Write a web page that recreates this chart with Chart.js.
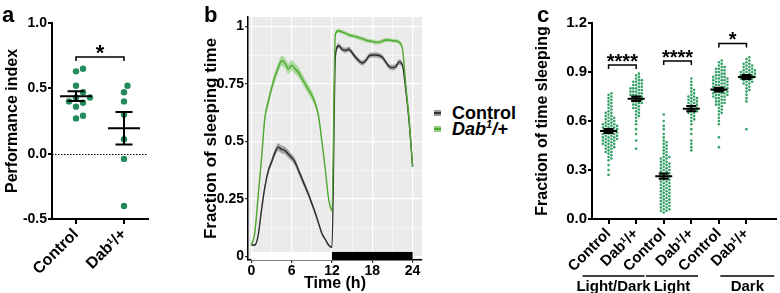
<!DOCTYPE html>
<html>
<head>
<meta charset="utf-8">
<title>Dab1 sleep figure</title>
<script src="https://cdn.jsdelivr.net/npm/chart.js@4.4.1/dist/chart.umd.min.js"></script>
<style>
  body { margin: 0; background: #fff; font-family: 'Liberation Sans', Arial, sans-serif; }
  #fig { position: relative; width: 780px; height: 293px; overflow: hidden; }
  canvas { position: absolute; top: 0; }
  .tag { position: absolute; top: 4px; font-size: 22px; font-weight: bold; line-height: 22px; }
  .leg { position: absolute; left: 434px; font-size: 18px; font-weight: bold; line-height: 17px; white-space: nowrap; }
  .leg sup { font-size: 11px; line-height: 0; }
  .key { display: inline-block; width: 7px; height: 6px; margin-right: 11px; vertical-align: 3px; }
</style>
</head>
<body>
<div id="fig">
  <canvas id="chart-a" width="200" height="293" style="left:0"></canvas>
  <canvas id="chart-b" width="237" height="293" style="left:195px"></canvas>
  <canvas id="chart-c" width="250" height="293" style="left:530px"></canvas>
  <div class="tag" style="left:2px">a</div>
  <div class="tag" style="left:204px">b</div>
  <div class="tag" style="left:537px">c</div>
  <div class="leg" style="top:105px"><span class="key" style="background:linear-gradient(#9a9a9a 0 40%, #333 40% 60%, #9a9a9a 60%)"></span>Control</div>
  <div class="leg" style="top:121px"><span class="key" style="background:linear-gradient(#93d07e 0 40%, #4ea832 40% 60%, #93d07e 60%)"></span><i>Dab<sup>1</sup>/+</i></div>
</div>
<script>
// ---- panel a: performance index
const groupsA = ['Control', 'Dab¹/+'];
const piControl = [0.65, 0.63, 0.52, 0.47, 0.43, 0.43, 0.40, 0.39, 0.36, 0.29, 0.27];
const piDab = [0.52, 0.47, 0.40, 0.30, 0.11, -0.04, -0.40];
const yTicksA = [-0.5, 0, 0.5, 1.0];

// ---- panel b: sleep profile over 24 h
const hours = [0, 0.5, 1, 1.5, 2, 2.5, 3, 3.5, 4, 4.5, 5, 5.5,
  6, 6.5, 7, 7.5, 8, 8.5, 9, 9.5, 10, 10.5, 11, 11.5,
  12, 12.5, 13, 13.5, 14, 14.5, 15, 15.5, 16, 16.5, 17, 17.5,
  18, 18.5, 19, 19.5, 20, 20.5, 21, 21.5, 22, 22.5, 23, 23.5, 24];
const controlSleep = [0.05, 0.05, 0.09, 0.20, 0.30, 0.37, 0.41, 0.45, 0.475, 0.465, 0.46, 0.445,
  0.43, 0.41, 0.375, 0.34, 0.305, 0.27, 0.23, 0.19, 0.145, 0.10, 0.075, 0.05,
  0.04, 0.87, 0.915, 0.90, 0.895, 0.90, 0.885, 0.865, 0.85, 0.84, 0.85, 0.87,
  0.875, 0.875, 0.873, 0.865, 0.845, 0.825, 0.82, 0.825, 0.845, 0.83, 0.72, 0.58, 0.39];
const controlSem = [0.004, 0.004, 0.006, 0.010, 0.012, 0.014, 0.015, 0.016, 0.017, 0.017, 0.017, 0.017,
  0.016, 0.016, 0.015, 0.015, 0.014, 0.013, 0.012, 0.011, 0.009, 0.007, 0.006, 0.005,
  0.004, 0.010, 0.011, 0.011, 0.011, 0.011, 0.011, 0.011, 0.011, 0.011, 0.011, 0.011,
  0.011, 0.011, 0.011, 0.011, 0.011, 0.011, 0.012, 0.012, 0.012, 0.012, 0.010, 0.008, 0.005];
const dabSleep = [0.05, 0.10, 0.26, 0.42, 0.60, 0.67, 0.73, 0.78, 0.82, 0.85, 0.84, 0.815,
  0.83, 0.815, 0.80, 0.775, 0.75, 0.725, 0.70, 0.665, 0.61, 0.50, 0.38, 0.25,
  0.20, 0.965, 0.98, 0.975, 0.97, 0.962, 0.958, 0.955, 0.95, 0.946, 0.94, 0.936,
  0.934, 0.93, 0.93, 0.935, 0.94, 0.94, 0.937, 0.936, 0.93, 0.90, 0.74, 0.59, 0.39];
const dabSem = [0.005, 0.009, 0.013, 0.016, 0.018, 0.020, 0.021, 0.022, 0.022, 0.022, 0.022, 0.022,
  0.022, 0.022, 0.022, 0.022, 0.021, 0.021, 0.020, 0.018, 0.016, 0.014, 0.012, 0.010,
  0.009, 0.009, 0.009, 0.009, 0.009, 0.009, 0.009, 0.009, 0.009, 0.009, 0.009, 0.009,
  0.009, 0.009, 0.009, 0.009, 0.009, 0.009, 0.009, 0.009, 0.009, 0.009, 0.008, 0.007, 0.005];
const phaseStart = [0, 12];
const phaseEnd = [12, 24];
const xTicksB = [0, 3, 6, 9, 12, 15, 18, 21, 24];
const yTicksB = [0, 0.125, 0.25, 0.375, 0.5, 0.625, 0.75, 0.875, 1];

// ---- panel c: fraction of time sleeping per fly
const groupsC = ['Control', 'Dab¹/+', 'Control', 'Dab¹/+', 'Control', 'Dab¹/+'];
const periodsC = ['Light/Dark', 'Light', 'Dark'];
const ldControl = [0.27, 0.30, 0.33, 0.36, 0.37, 0.38, 0.39, 0.40, 0.41, 0.41, 0.42, 0.43, 0.43, 0.44, 0.44,
  0.45, 0.45, 0.46, 0.46, 0.46, 0.47, 0.47, 0.48, 0.48, 0.48, 0.49, 0.49, 0.49, 0.50, 0.50, 0.50,
  0.51, 0.51, 0.51, 0.52, 0.52, 0.52, 0.53, 0.53, 0.53, 0.54, 0.54, 0.54, 0.55, 0.55, 0.55, 0.56,
  0.56, 0.56, 0.57, 0.57, 0.57, 0.58, 0.58, 0.58, 0.59, 0.59, 0.60, 0.60, 0.61, 0.61, 0.62, 0.62,
  0.63, 0.63, 0.64, 0.65, 0.65, 0.66, 0.67, 0.68, 0.69, 0.70, 0.71, 0.72, 0.73, 0.74, 0.75, 0.76, 0.77];
const ldDab = [0.43, 0.48, 0.52, 0.55, 0.58, 0.60, 0.62, 0.63, 0.64, 0.65, 0.66, 0.67, 0.68, 0.68, 0.69,
  0.70, 0.70, 0.71, 0.71, 0.72, 0.72, 0.73, 0.73, 0.74, 0.74, 0.75, 0.75, 0.76, 0.76, 0.76, 0.77,
  0.77, 0.78, 0.78, 0.78, 0.79, 0.79, 0.80, 0.80, 0.80, 0.81, 0.81, 0.82, 0.82, 0.83, 0.83, 0.84,
  0.84, 0.85, 0.85, 0.86, 0.87, 0.88, 0.89];
const lightControl = [0.04, 0.05, 0.05, 0.06, 0.06, 0.07, 0.07, 0.08, 0.08, 0.09, 0.09, 0.10, 0.10, 0.11,
  0.11, 0.12, 0.12, 0.13, 0.13, 0.14, 0.14, 0.15, 0.15, 0.16, 0.16, 0.17, 0.17, 0.18, 0.18, 0.19,
  0.19, 0.20, 0.20, 0.21, 0.21, 0.22, 0.22, 0.23, 0.23, 0.24, 0.24, 0.25, 0.25, 0.26, 0.26, 0.27,
  0.27, 0.28, 0.28, 0.29, 0.29, 0.30, 0.30, 0.31, 0.31, 0.32, 0.32, 0.33, 0.33, 0.34, 0.34, 0.35,
  0.35, 0.36, 0.37, 0.37, 0.38, 0.38, 0.39, 0.40, 0.41, 0.42, 0.43, 0.44, 0.45, 0.46, 0.47, 0.48,
  0.50, 0.52, 0.55, 0.57, 0.60, 0.64];
const lightDab = [0.42, 0.44, 0.46, 0.48, 0.52, 0.55, 0.58, 0.60, 0.61, 0.62, 0.63, 0.64, 0.65, 0.65,
  0.66, 0.66, 0.67, 0.67, 0.68, 0.68, 0.69, 0.69, 0.70, 0.70, 0.71, 0.71, 0.72, 0.72, 0.73, 0.73,
  0.74, 0.74, 0.75, 0.75, 0.76, 0.77, 0.78, 0.79, 0.80, 0.82, 0.84, 0.86];
const darkControl = [0.44, 0.50, 0.58, 0.60, 0.62, 0.64, 0.65, 0.66, 0.67, 0.68, 0.69, 0.70, 0.70, 0.71,
  0.71, 0.72, 0.72, 0.73, 0.73, 0.74, 0.74, 0.75, 0.75, 0.75, 0.76, 0.76, 0.76, 0.77, 0.77, 0.77,
  0.78, 0.78, 0.78, 0.79, 0.79, 0.79, 0.80, 0.80, 0.80, 0.81, 0.81, 0.81, 0.82, 0.82, 0.82, 0.83,
  0.83, 0.83, 0.84, 0.84, 0.84, 0.85, 0.85, 0.85, 0.86, 0.86, 0.86, 0.87, 0.87, 0.87, 0.88, 0.88,
  0.89, 0.89, 0.90, 0.90, 0.91, 0.91, 0.92, 0.92, 0.93, 0.93, 0.94, 0.95, 0.96, 0.97];
const darkDab = [0.55, 0.72, 0.74, 0.76, 0.78, 0.79, 0.80, 0.81, 0.82, 0.83, 0.83, 0.84, 0.84, 0.85, 0.85,
  0.86, 0.86, 0.86, 0.87, 0.87, 0.87, 0.88, 0.88, 0.88, 0.89, 0.89, 0.89, 0.90, 0.90, 0.90, 0.91,
  0.91, 0.91, 0.92, 0.92, 0.93, 0.93, 0.94, 0.94, 0.95, 0.95, 0.96, 0.97, 0.98, 0.99];
const yTicksC = [0, 0.3, 0.6, 0.9, 1.2];

// significance brackets
const sigPairsA = [[0, 1]];
const sigLevelsA = [0.74];
const sigLabelsA = ['*'];
const sigPairsC = [[0, 1], [2, 3], [4, 5]];
const sigLevelsC = [0.943, 0.967, 1.075];
const sigLabelsC = ['****', '****', '*'];

Chart.defaults.font.family = "'Liberation Sans', Arial, sans-serif";
Chart.defaults.font.weight = 'bold';
Chart.defaults.color = '#000';
Chart.defaults.animation = false;
Chart.defaults.plugins.legend.display = false;
Chart.defaults.plugins.tooltip.enabled = false;

// spread points sideways so they don't overlap (beeswarm), returns x offsets in axis units
function swarm(values, pxPerX, pxPerY, gap) {
  const order = values.map((v, i) => i).sort((a, b) => values[a] - values[b]);
  const placed = [];
  const offsets = [];
  order.forEach(i => {
    const py = values[i] * pxPerY;
    let px = 0;
    for (let k = 0; k < 80; k++) {
      const cand = (k % 2 ? 1 : -1) * Math.ceil(k / 2) * gap / 2;
      if (placed.every(p => (p.x - cand) ** 2 + (p.y - py) ** 2 >= gap * gap)) { px = cand; break; }
    }
    placed.push({ x: px, y: py });
    offsets[i] = px / pxPerX;
  });
  return offsets;
}

function swarmData(values, group, pxPerX, pxPerY, gap) {
  const offs = swarm(values, pxPerX, pxPerY, gap);
  return values.map((v, i) => ({ x: group + offs[i], y: v }));
}

function makeMeanSem(groups, half, cap) {
  return {
    id: 'meanSem',
    afterDatasetsDraw(chart) {
      const { ctx, scales: { x, y } } = chart;
      ctx.save();
      ctx.strokeStyle = '#000';
      ctx.lineWidth = 2;
      groups.forEach((vals, g) => {
        const n = vals.length;
        const m = vals.reduce((a, b) => a + b, 0) / n;
        const sd = Math.sqrt(vals.reduce((a, b) => a + (b - m) ** 2, 0) / (n - 1));
        const se = sd / Math.sqrt(n);
        const cx = x.getPixelForValue(g);
        const ym = y.getPixelForValue(m), yt = y.getPixelForValue(m + se), yb = y.getPixelForValue(m - se);
        ctx.beginPath();
        ctx.moveTo(cx - half, ym); ctx.lineTo(cx + half, ym);
        ctx.moveTo(cx, yt); ctx.lineTo(cx, yb);
        ctx.moveTo(cx - cap, yt); ctx.lineTo(cx + cap, yt);
        ctx.moveTo(cx - cap, yb); ctx.lineTo(cx + cap, yb);
        ctx.stroke();
      });
      ctx.restore();
    }
  };
}

function makeBrackets(pairs, levels, labels, fontSize) {
  return {
    id: 'brackets',
    afterDraw(chart) {
      const { ctx, scales: { x, y } } = chart;
      ctx.save();
      ctx.strokeStyle = '#000';
      ctx.fillStyle = '#000';
      ctx.lineWidth = 1.5;
      ctx.font = 'bold ' + fontSize + "px 'Liberation Sans', Arial, sans-serif";
      ctx.textAlign = 'center';
      ctx.textBaseline = 'alphabetic';
      pairs.forEach((p, i) => {
        const x1 = x.getPixelForValue(p[0]), x2 = x.getPixelForValue(p[1]);
        const yy = y.getPixelForValue(levels[i]);
        ctx.beginPath();
        ctx.moveTo(x1, yy + 4); ctx.lineTo(x1, yy); ctx.lineTo(x2, yy); ctx.lineTo(x2, yy + 4);
        ctx.stroke();
        ctx.fillText(labels[i], (x1 + x2) / 2, yy + 3);
      });
      ctx.restore();
    }
  };
}

const zeroLine = {
  id: 'zeroLine',
  beforeDatasetsDraw(chart) {
    const { ctx, chartArea, scales: { y } } = chart;
    const yy = Math.round(y.getPixelForValue(0)) + 0.5;
    ctx.save();
    ctx.strokeStyle = '#000';
    ctx.lineWidth = 1;
    ctx.setLineDash([1.5, 1.5]);
    ctx.beginPath();
    ctx.moveTo(chartArea.left, yy);
    ctx.lineTo(chartArea.right, yy);
    ctx.stroke();
    ctx.restore();
  }
};

const bold = (size) => ({ size: size, weight: 'bold' });

function prismAxes(xMin, xMax, yMin, yMax, xTickVals, xLabels, yTickVals, title, xAxisH, yAxisW, tickFont, labelFont) {
  return {
    x: {
      type: 'linear', min: xMin, max: xMax,
      afterBuildTicks: ax => { ax.ticks = xTickVals.map(v => ({ value: v })); },
      afterFit: ax => { ax.height = xAxisH; },
      ticks: { autoSkip: false, minRotation: 45, maxRotation: 45, padding: 1,
        font: bold(labelFont), callback: v => xLabels[v] },
      grid: { drawOnChartArea: false, color: '#000', lineWidth: 2, tickLength: 5 },
      border: { color: '#000', width: 2 }
    },
    y: {
      min: yMin, max: yMax,
      afterBuildTicks: ax => { ax.ticks = yTickVals.map(v => ({ value: v })); },
      afterFit: ax => { ax.width = yAxisW; },
      ticks: { padding: 1, font: bold(tickFont), callback: v => v.toFixed(1) },
      title: { display: true, text: title, font: bold(16), padding: { top: 3, bottom: 0 } },
      grid: { drawOnChartArea: false, color: '#000', lineWidth: 2, tickLength: 4 },
      border: { color: '#000', width: 2 }
    }
  };
}

// ---------- chart a
const greenA = '#238b5b';
new Chart(document.getElementById('chart-a'), {
  type: 'scatter',
  data: {
    datasets: [piControl, piDab].map((vals, g) => ({
      data: swarmData(vals, g, 48, 131, 7),
      pointRadius: 3.2, backgroundColor: greenA, borderWidth: 0
    }))
  },
  options: {
    responsive: false,
    layout: { padding: { top: 23, right: 52, bottom: 0, left: 0 } },
    scales: prismAxes(-0.5, 1.5, -0.5, 1.0, [0, 1], groupsA, yTicksA, 'Performance index', 74, 52, 14, 16)
  },
  plugins: [zeroLine, makeMeanSem([piControl, piDab], 16, 8.5), makeBrackets(sigPairsA, sigLevelsA, sigLabelsA, 22)]
});

// ---------- chart b
const panelBg = {
  id: 'panelBg',
  beforeDraw(chart) {
    const { ctx, chartArea: a } = chart;
    ctx.save();
    ctx.fillStyle = '#ebebeb';
    ctx.fillRect(a.left, a.top, a.right - a.left, a.bottom - a.top);
    ctx.restore();
  },
  afterDatasetsDraw(chart) {
    const { ctx, chartArea: a, scales: { x, y } } = chart;
    const top = y.getPixelForValue(0.02);
    ctx.save();
    ['#ffffff', '#000000'].forEach((c, i) => {
      const x1 = x.getPixelForValue(phaseStart[i]), x2 = x.getPixelForValue(phaseEnd[i]);
      ctx.fillStyle = c;
      ctx.fillRect(x1, top, x2 - x1, a.bottom - top);
    });
    ctx.restore();
  }
};

const pts = (arr, sem, sign) => hours.map((h, i) => ({ x: h, y: arr[i] + sign * sem[i] }));
const lineStyle = { pointRadius: 0, cubicInterpolationMode: 'monotone', fill: false };
new Chart(document.getElementById('chart-b'), {
  type: 'line',
  data: {
    datasets: [
      { ...lineStyle, data: pts(dabSleep, dabSem, 0), borderColor: '#4ea832', borderWidth: 1.4 },
      { ...lineStyle, data: pts(controlSleep, controlSem, 0), borderColor: '#2b2b2b', borderWidth: 1.4 },
      { ...lineStyle, data: pts(dabSleep, dabSem, 1), borderWidth: 0, fill: '+1', backgroundColor: 'rgba(125,205,100,0.6)' },
      { ...lineStyle, data: pts(dabSleep, dabSem, -1), borderWidth: 0 },
      { ...lineStyle, data: pts(controlSleep, controlSem, 1), borderWidth: 0, fill: '+1', backgroundColor: 'rgba(100,100,100,0.55)' },
      { ...lineStyle, data: pts(controlSleep, controlSem, -1), borderWidth: 0 }
    ]
  },
  options: {
    responsive: false,
    layout: { padding: { top: 17, right: 10, bottom: 0, left: 0 } },
    scales: {
      x: {
        type: 'linear', min: -0.5, max: 25.4,
        afterBuildTicks: ax => { ax.ticks = xTicksB.map(v => ({ value: v })); },
        afterFit: ax => { ax.height = 33; },
        ticks: { maxRotation: 0, autoSkip: false, padding: 0, font: bold(14),
          callback: v => (v % 6 === 0 ? String(v) : '') },
        title: { display: true, text: 'Time (h)', font: bold(16), padding: { top: -3, bottom: 0 } },
        grid: {
          color: '#ffffff', tickLength: 3,
          lineWidth: c => (c.tick && c.tick.value % 6 === 0 ? 1.2 : 0.5),
          tickColor: c => (c.tick && c.tick.value % 6 === 0 ? '#333' : 'rgba(0,0,0,0)')
        },
        border: { color: '#000', width: 1.5 }
      },
      y: {
        min: -0.015, max: 1.04,
        afterBuildTicks: ax => { ax.ticks = yTicksB.map(v => ({ value: v })); },
        afterFit: ax => { ax.width = 53; },
        ticks: { padding: 1, font: bold(14), callback: v => (v % 0.25 === 0 ? String(v) : '') },
        title: { display: true, text: 'Fraction of sleeping time', font: bold(17), padding: { top: 6, bottom: 0 } },
        grid: {
          color: '#ffffff', tickLength: 3,
          lineWidth: c => (c.tick && c.tick.value % 0.25 === 0 ? 1.2 : 0.5),
          tickColor: c => (c.tick && c.tick.value % 0.25 === 0 ? '#333' : 'rgba(0,0,0,0)')
        },
        border: { color: '#000', width: 1.5 }
      }
    }
  },
  plugins: [panelBg]
});

// ---------- chart c
const greenC = '#35a066';
const periodLabels = {
  id: 'periodLabels',
  afterDraw(chart) {
    const { ctx, scales: { x } } = chart;
    const centers = [0.18, 2.3, 5.03];
    const halves = [31, 26, 27];
    ctx.save();
    ctx.strokeStyle = '#000';
    ctx.fillStyle = '#000';
    ctx.lineWidth = 1.5;
    ctx.font = "bold 15px 'Liberation Sans', Arial, sans-serif";
    ctx.textAlign = 'center';
    ctx.textBaseline = 'alphabetic';
    periodsC.forEach((p, i) => {
      const cx = x.getPixelForValue(centers[i]);
      ctx.beginPath();
      ctx.moveTo(cx - halves[i], 276);
      ctx.lineTo(cx + halves[i], 276);
      ctx.stroke();
      ctx.fillText(p, cx, 291);
    });
    ctx.restore();
  }
};

const seriesC = [ldControl, ldDab, lightControl, lightDab, darkControl, darkDab];
new Chart(document.getElementById('chart-c'), {
  type: 'scatter',
  data: {
    datasets: seriesC.map((vals, g) => ({
      data: swarmData(vals, g, 28.2, 163.3, 2.9),
      pointRadius: 1.3, backgroundColor: greenC, borderWidth: 0
    }))
  },
  options: {
    responsive: false,
    layout: { padding: { top: 23, right: 0, bottom: 0, left: 0 } },
    scales: prismAxes(-0.6, 6.07, 0, 1.2, [0, 1, 2, 3, 4, 5], groupsC, yTicksC, 'Fraction of time sleeping', 74, 62, 15, 15)
  },
  plugins: [makeMeanSem(seriesC, 8.5, 5), makeBrackets(sigPairsC, sigLevelsC, sigLabelsC, 20), periodLabels]
});
</script>
</body>
</html>
